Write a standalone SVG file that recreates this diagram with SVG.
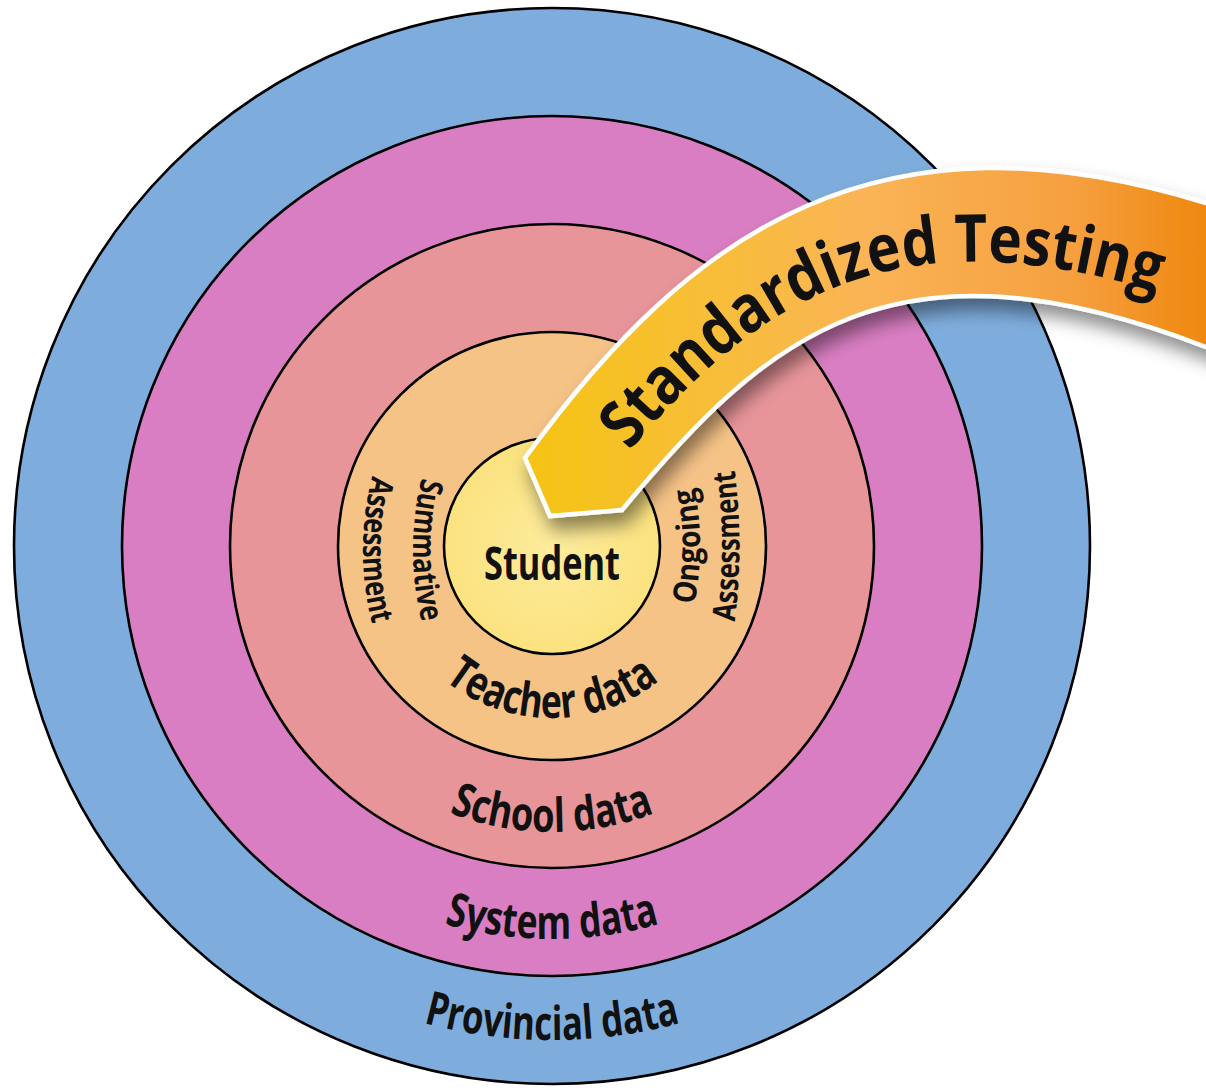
<svg xmlns="http://www.w3.org/2000/svg" width="1206" height="1088" viewBox="0 0 1206 1088">
<style>
.ring{stroke:#000;stroke-width:2.6}
.lbl{font-family:"Open Sans","Noto Sans","Liberation Sans",sans-serif;font-weight:700;fill:#111}
.big{font-size:47px}
.side{font-size:32px}
</style>
<defs>
<linearGradient id="bannerGrad" gradientUnits="userSpaceOnUse" x1="525" y1="0" x2="1206" y2="0">
<stop offset="0" stop-color="#F5C414"/>
<stop offset="0.3" stop-color="#F8BD3C"/>
<stop offset="0.5" stop-color="#FAB456"/>
<stop offset="0.8" stop-color="#F6A040"/>
<stop offset="1" stop-color="#EF8810"/>
</linearGradient>
<radialGradient id="studentGrad" cx="552" cy="546" r="108" gradientUnits="userSpaceOnUse">
<stop offset="0" stop-color="#FDEC9C"/>
<stop offset="1" stop-color="#FBE27F"/>
</radialGradient>
<filter id="shadow" x="-20%" y="-20%" width="140%" height="160%">
<feDropShadow dx="5" dy="12" stdDeviation="9" flood-color="#000" flood-opacity="0.45"/>
</filter>
<path id="pTeacher" d="M403,632 A172,172 0 0 0 701,632"/>
<path id="pSchool" d="M304.3,689 A286,286 0 0 0 799.7,689"/>
<path id="pSystem" d="M211.7,742.5 A393,393 0 0 0 892.3,742.5"/>
<path id="pProv" d="M124.2,793 A494,494 0 0 0 979.8,793"/>
<path id="pSumm" d="M422,477 A300,300 0 0 0 422,623"/>
<path id="pAssL" d="M372,477 A300,300 0 0 0 372,623"/>
<path id="pOng" d="M691,619 A300,300 0 0 0 691,473"/>
<path id="pAssR" d="M735,619 A600,600 0 0 0 735,473"/>
<path id="pStd" d="M592,498 C745,299 890,198 1197,305"/>
</defs>

<g id="ring-provincial"><circle class="ring" cx="552" cy="546" r="538" fill="#7EADDD"/></g>
<g id="ring-system"><circle class="ring" cx="552" cy="546" r="430" fill="#D97EC2"/></g>
<g id="ring-school"><circle class="ring" cx="552" cy="546" r="322" fill="#E8959A"/></g>
<g id="ring-teacher"><circle class="ring" cx="552" cy="546" r="214" fill="#F6C387"/></g>
<g id="node-student"><circle class="ring" cx="552" cy="546" r="108" fill="url(#studentGrad)"/></g>

<g id="labels">
<text class="lbl big" x="552" y="580" text-anchor="middle" textLength="136" lengthAdjust="spacingAndGlyphs">Student</text>
<text class="lbl big"><textPath href="#pTeacher" startOffset="50%" text-anchor="middle" textLength="232" lengthAdjust="spacingAndGlyphs">Teacher data</textPath></text>
<text class="lbl big"><textPath href="#pSchool" startOffset="50%" text-anchor="middle" textLength="210" lengthAdjust="spacingAndGlyphs">School data</textPath></text>
<text class="lbl big"><textPath href="#pSystem" startOffset="50%" text-anchor="middle" textLength="218" lengthAdjust="spacingAndGlyphs">System data</textPath></text>
<text class="lbl big"><textPath href="#pProv" startOffset="50%" text-anchor="middle" textLength="260" lengthAdjust="spacingAndGlyphs">Provincial data</textPath></text>
<text class="lbl side"><textPath href="#pSumm" startOffset="50%" text-anchor="middle" textLength="146" lengthAdjust="spacingAndGlyphs">Summative</textPath></text>
<text class="lbl side"><textPath href="#pAssL" startOffset="50%" text-anchor="middle" textLength="150" lengthAdjust="spacingAndGlyphs">Assessment</textPath></text>
<text class="lbl side"><textPath href="#pOng" startOffset="50%" text-anchor="middle" textLength="118" lengthAdjust="spacingAndGlyphs">Ongoing</textPath></text>
<text class="lbl side"><textPath href="#pAssR" startOffset="50%" text-anchor="middle" textLength="152" lengthAdjust="spacingAndGlyphs">Assessment</textPath></text>
</g>

<g id="banner">
<path d="M525,458 C693,226 881,103 1206,203 L1240,214 L1240,360 L1206,347 C894,227 768,334 622,510 L550,516 Z" fill="url(#bannerGrad)" stroke="#fff" stroke-width="4.5" stroke-linejoin="miter" filter="url(#shadow)"/>
<text class="lbl" font-size="66"><textPath href="#pStd" startOffset="60" textLength="594" lengthAdjust="spacingAndGlyphs">Standardized Testing</textPath></text>
</g>
</svg>
